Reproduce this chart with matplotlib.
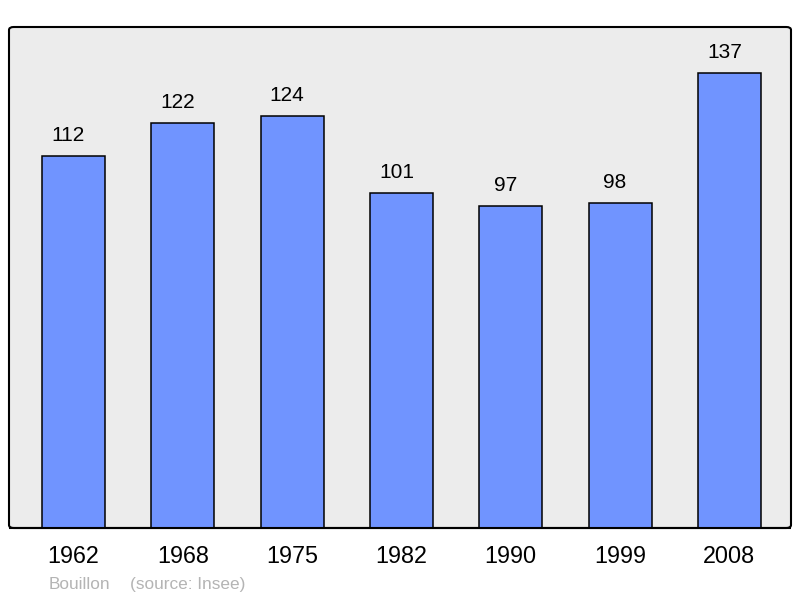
import matplotlib
matplotlib.use("Agg")
import matplotlib.pyplot as plt
from matplotlib.patches import FancyBboxPatch

years = ["1962", "1968", "1975", "1982", "1990", "1999", "2008"]
population = [112, 122, 124, 101, 97, 98, 137]
commune = "Bouillon"
source = "(source: Insee)"

plt.rcParams['font.family'] = ['Liberation Sans', 'DejaVu Sans']

fig = plt.figure(figsize=(8, 5.98), dpi=100)
ax = fig.add_axes([9/800, 70/598, 782/800, 501/598])
ax.patch.set_visible(False)
for s in ax.spines.values():
    s.set_visible(False)

frame = FancyBboxPatch((0, 0), 1, 1, boxstyle="round,pad=0,rounding_size=0.006",
                       transform=ax.transAxes, facecolor="#ececec",
                       edgecolor="black", linewidth=1.5, clip_on=False, zorder=0)
ax.add_patch(frame)

x = list(range(len(years)))
bars = ax.bar(x, population, width=0.577, color="#7094ff", edgecolor="black",
              linewidth=1.1, zorder=2)
for xi, v in zip(x, population):
    ax.annotate(str(v), (xi, v), xytext=(-3.6, 10.8), textcoords="offset points",
                ha="center", va="baseline", fontsize=15, color="black")

ax.set_xlim(-0.59, 6.564)
ax.set_ylim(0, 150.85)
ax.set_yticks([])
ax.set_xticks(x)
ax.set_xticklabels(years, fontsize=16.8)
ax.tick_params(axis="x", length=0, pad=12.5)

# redraw bottom frame line over bars
ax.plot([0, 1], [0, 0], transform=ax.transAxes, color="black", linewidth=1.5,
        zorder=3, clip_on=False, solid_capstyle="butt")

fig.text(49/800, 1 - 589/598, commune, fontsize=12.4, color="#b4b4b4", va="baseline", ha="left")
fig.text(130/800, 1 - 589/598, source, fontsize=12.4, color="#b4b4b4", va="baseline", ha="left")

fig.savefig("out.png", dpi=100)
